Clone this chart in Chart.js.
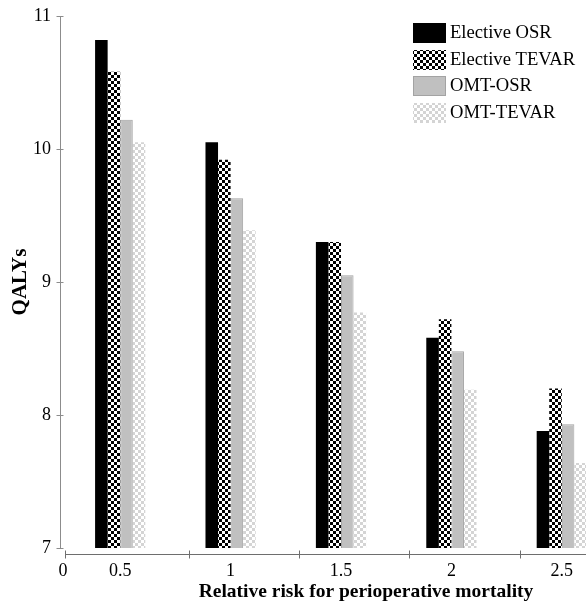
<!DOCTYPE html>
<html>
<head>
<meta charset="utf-8">
<title>QALYs by relative risk</title>
<script src="https://cdn.jsdelivr.net/npm/chart.js@4/dist/chart.umd.min.js"></script>
<style>
  html, body { margin: 0; padding: 0; background: #fff; overflow: hidden; }
  #wrap { width: 586px; height: 605px; overflow: hidden; }
  canvas { display: block; }
</style>
</head>
<body>
<div id="wrap"><canvas id="qalyChart" width="620" height="605"></canvas></div>
<script>
const categories = ['0.5', '1', '1.5', '2', '2.5']
const originLabel = '0'
const seriesNames = ['Elective OSR', 'Elective TEVAR', 'OMT-OSR', 'OMT-TEVAR']
const electiveOsr = [10.82, 10.05, 9.30, 8.58, 7.88]
const electiveTevar = [10.58, 9.92, 9.30, 8.72, 8.20]
const omtOsr = [10.22, 9.63, 9.05, 8.48, 7.93]
const omtTevar = [10.05, 9.39, 8.77, 8.19, 7.64]
const yMin = 7
const yMax = 11

const serif = '"Liberation Serif", "Times New Roman", serif'

function checker(size, dark, light) {
  const c = document.createElement('canvas')
  c.width = size * 2
  c.height = size * 2
  const g = c.getContext('2d')
  g.fillStyle = light
  g.fillRect(0, 0, size * 2, size * 2)
  g.fillStyle = dark
  g.fillRect(0, 0, size, size)
  g.fillRect(size, size, size, size)
  return g.createPattern(c, 'repeat')
}

const canvas = document.getElementById('qalyChart')
const blackChecker = checker(3, '#000000', '#ffffff')
const greyChecker = checker(3, '#d4d4d4', '#ffffff')

// axis lines, ticks, the lone "0", x title and legend
const decorations = {
  id: 'decorations',
  afterDraw(chart) {
    const { ctx, chartArea, scales: { x, y } } = chart
    ctx.save()
    ctx.lineWidth = 1

    // y axis, a little left of the plot
    const ax = chartArea.left - 5 + 0.5
    ctx.strokeStyle = '#8c8c8c'
    ctx.beginPath()
    ctx.moveTo(ax, Math.round(y.getPixelForValue(yMax)))
    ctx.lineTo(ax, Math.round(y.getPixelForValue(yMin)))
    y.ticks.forEach(t => {
      const py = Math.round(y.getPixelForValue(t.value)) + 0.5
      ctx.moveTo(ax - 4, py)
      ctx.lineTo(ax + 3, py)
    })
    ctx.stroke()

    // x axis, a little below the plot
    const ay = Math.round(chartArea.bottom) + 6.5
    ctx.strokeStyle = '#6e6e6e'
    ctx.beginPath()
    ctx.moveTo(chartArea.left, ay)
    ctx.lineTo(chartArea.right, ay)
    const tickXs = [chartArea.left]
    for (let i = 0; i < categories.length - 1; i++) tickXs.push(x.getPixelForValue(i + 0.62))
    tickXs.forEach(px => {
      const rx = Math.round(px) + 0.5
      ctx.moveTo(rx, ay - 4)
      ctx.lineTo(rx, ay + 4)
    })
    ctx.stroke()

    ctx.fillStyle = '#000'
    ctx.textAlign = 'center'
    ctx.textBaseline = 'middle'
    ctx.font = '18px ' + serif
    ctx.fillText(originLabel, chartArea.left - 2, chartArea.bottom + 23)

    ctx.font = 'bold 19.5px ' + serif
    ctx.fillText('Relative risk for perioperative mortality', (chartArea.left + chartArea.right) / 2 + 25, chartArea.bottom + 44)

    // legend in the top right corner
    const lx = 413
    const ly = 23
    const rowH = 26.7
    ctx.textAlign = 'left'
    ctx.font = '18.6px ' + serif
    chart.data.datasets.forEach((ds, i) => {
      const top = Math.round(ly + i * rowH)
      ctx.fillStyle = ds.backgroundColor
      ctx.fillRect(lx, top, 33, 20)
      if (ds.borderWidth) {
        ctx.strokeStyle = ds.borderColor
        ctx.strokeRect(lx + 0.5, top + 0.5, 32, 19)
      }
      ctx.fillStyle = '#000'
      ctx.fillText(ds.label, lx + 37, top + 10)
    })
    ctx.restore()
  }
}

new Chart(canvas, {
  type: 'bar',
  data: {
    labels: categories,
    datasets: [
      { label: seriesNames[0], data: electiveOsr, backgroundColor: '#000000', borderWidth: 0 },
      { label: seriesNames[1], data: electiveTevar, backgroundColor: blackChecker, borderWidth: 0 },
      { label: seriesNames[2], data: omtOsr, backgroundColor: '#c0c0c0', borderColor: '#a3a3a3', borderWidth: 1 },
      { label: seriesNames[3], data: omtTevar, backgroundColor: greyChecker, borderWidth: 0 }
    ]
  },
  options: {
    responsive: false,
    animation: false,
    devicePixelRatio: 1,
    barPercentage: 1,
    categoryPercentage: 0.455,
    layout: { padding: { top: 16, right: 3, left: 0, bottom: 0 } },
    plugins: {
      legend: { display: false },
      tooltip: { enabled: false }
    },
    scales: {
      x: {
        grid: { display: false, drawTicks: false },
        border: { display: false },
        ticks: { color: '#000', padding: 12, font: { family: serif, size: 18 } },
        afterFit(scale) {
          scale.height = 57
          scale.paddingLeft = 0
          scale.paddingRight = 0
        }
      },
      y: {
        min: yMin,
        max: yMax,
        grid: { display: false, drawTicks: false },
        border: { display: false },
        ticks: { stepSize: 1, color: '#000', padding: 14, font: { family: serif, size: 18 } },
        title: {
          display: true,
          text: 'QALYs',
          color: '#000',
          padding: { top: 8, bottom: 0 },
          font: { family: serif, size: 21, weight: 'bold' }
        },
        afterFit(scale) {
          scale.width = 65
          scale.paddingTop = 0
          scale.paddingBottom = 0
        }
      }
    }
  },
  plugins: [decorations]
})
</script>
</body>
</html>
